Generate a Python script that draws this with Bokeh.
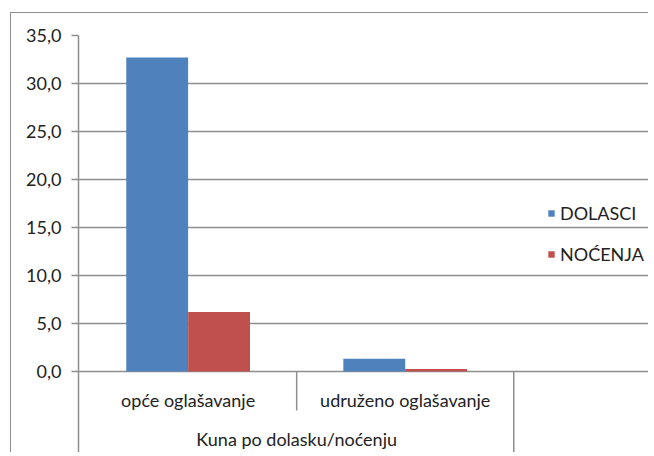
from bokeh.plotting import figure
from bokeh.models import (ColumnDataSource, Range1d, FixedTicker,
                          Legend, LegendItem)
from bokeh.core.properties import value
from bokeh.embed import file_html
from bokeh.resources import INLINE

# ---- data ----
categories = ["opće oglašavanje", "udruženo oglašavanje"]
group_label = "Kuna po dolasku/noćenju"
series_names = ["DOLASCI", "NOĆENJA"]
dolasci = [32.7, 1.32]
nocenja = [6.2, 0.25]
y_ticks = [0, 5, 10, 15, 20, 25, 30, 35]
y_tick_labels = ["0,0", "5,0", "10,0", "15,0", "20,0", "25,0", "30,0", "35,0"]

BLUE = "#4F81BD"
RED = "#C0504D"
GRID = "#8e8e8e"
FONT = "Lato"
FS = "18px"

n = len(categories)
centers = [i + 0.5 for i in range(n)]
bw = 0.285

src = ColumnDataSource(dict(
    x_d=[c - bw / 2 for c in centers],
    x_n=[c + bw / 2 for c in centers],
    dolasci=dolasci, nocenja=nocenja))

W, H = 638, 440
ymax = y_ticks[-1]
ymin = -8.54
xmax = 571 / 217.5 * n / 2

p = figure(width=W, height=H, output_backend="svg", toolbar_location=None,
           x_range=Range1d(-0.005, xmax),
           y_range=Range1d(ymin, ymax),
           min_border_left=67, min_border_top=22, min_border_right=0,
           min_border_bottom=0,
           styles={"margin-left": "10px", "margin-top": "12px",
                   "border-left": "1px solid #8e8e8e",
                   "border-top": "1px solid #8e8e8e"})
p.outline_line_color = None
p.xaxis.visible = False
p.xgrid.visible = False

r1 = p.vbar(x="x_d", top="dolasci", width=bw, source=src,
            fill_color=BLUE, line_color=None)
r2 = p.vbar(x="x_n", top="nocenja", width=bw, source=src,
            fill_color=RED, line_color=None)

# y axis
ax = p.yaxis[0]
ax.ticker = FixedTicker(ticks=y_ticks)
ax.major_label_overrides = {t: l for t, l in zip(y_ticks, y_tick_labels)}
ax.minor_tick_line_color = None
ax.major_tick_in = 0
ax.major_tick_out = 7
ax.major_tick_line_color = GRID
ax.major_tick_line_width = 1.5
ax.axis_line_color = GRID
ax.axis_line_width = 1.5
ax.major_label_standoff = 10
ax.major_label_text_font = FONT
ax.major_label_text_font_size = FS
ax.major_label_text_color = "#222222"

p.ygrid.ticker = FixedTicker(ticks=y_ticks)
p.ygrid.bounds = (-0.005, n)
p.ygrid.grid_line_color = GRID
p.ygrid.grid_line_width = 1.5

# category separators below the zero line
p.segment(x0=[1.0], y0=[0], x1=[1.0], y1=[-4.06], line_color=GRID, line_width=1.5)
p.segment(x0=[float(n)], y0=[0], x1=[float(n)], y1=[ymin], line_color=GRID,
          line_width=1.5)

# category labels and group label
p.text(x=centers, y=[-3.0] * n, text=categories, text_font=value(FONT),
       text_font_size=FS, text_align="center", text_baseline="middle",
       text_color="#222222")
p.text(x=[n / 2], y=[-7.0], text=[group_label], text_font=value(FONT),
       text_font_size=FS, text_align="center", text_baseline="middle",
       text_color="#222222")

legend = Legend(items=[LegendItem(label=series_names[0], renderers=[r1]),
                       LegendItem(label=series_names[1], renderers=[r2])],
                location=(469, 188), orientation="vertical")
legend.border_line_color = None
legend.background_fill_alpha = 0
legend.padding = 0
legend.margin = 0
legend.glyph_width = 8
legend.glyph_height = 8
legend.label_standoff = 5
legend.label_height = 20
legend.spacing = 19
legend.label_text_font = FONT
legend.label_text_font_size = FS
legend.label_text_color = "#222222"
p.add_layout(legend, "center")

open("out.html", "w").write(file_html(p, INLINE))
